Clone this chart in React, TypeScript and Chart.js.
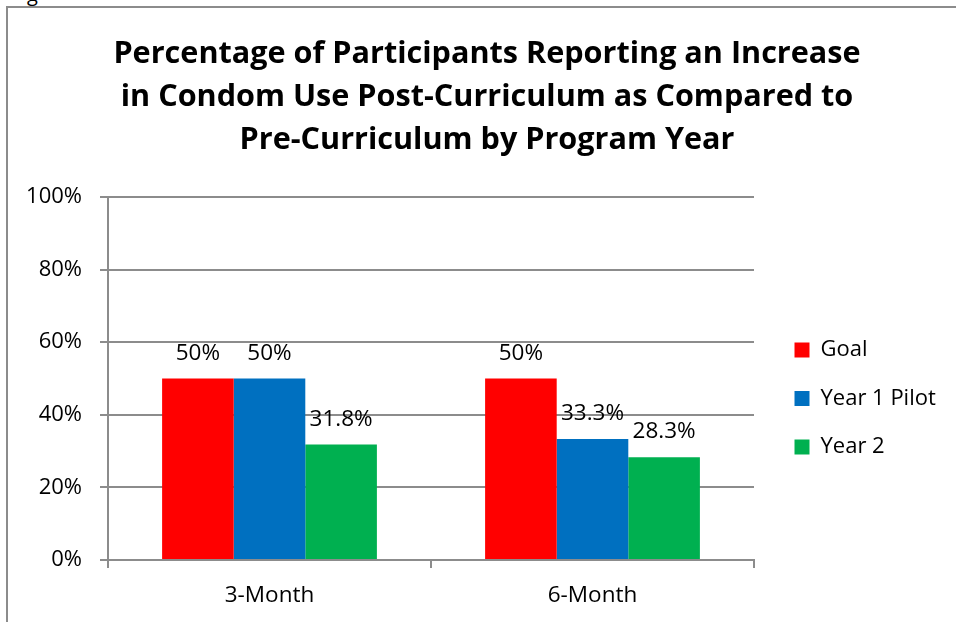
import React, { useEffect, useRef } from "react";
import { Chart, registerables } from "chart.js";

Chart.register(...registerables);

const FONT = "'Open Sans', Lato, sans-serif";

const titleLines = [
  "Percentage of Participants Reporting an Increase",
  "in Condom Use Post-Curriculum as Compared to",
  "Pre-Curriculum by Program Year",
];
const categories = ["3-Month", "6-Month"];
const seriesNames = ["Goal", "Year 1 Pilot", "Year 2"];
const goalValues = [50, 50];
const year1PilotValues = [50, 33.3];
const year2Values = [31.8, 28.3];
const seriesColors = ["#FF0000", "#0070C0", "#00B050"];
const yMin = 0;
const yMax = 100;
const yStep = 20;

const fmt = (v: number) => (Number.isInteger(v) ? `${v}%` : `${v.toFixed(1)}%`);

const valueLabels = {
  id: "valueLabels",
  afterDatasetsDraw(chart: any) {
    const ctx = chart.ctx;
    ctx.save();
    ctx.font = `22.5px ${FONT}`;
    ctx.fillStyle = "#000";
    ctx.textAlign = "center";
    ctx.textBaseline = "alphabetic";
    chart.data.datasets.forEach((ds: any, i: number) => {
      const meta = chart.getDatasetMeta(i);
      meta.data.forEach((bar: any, j: number) => {
        ctx.fillText(fmt(ds.data[j]), bar.x, bar.y - 19);
      });
    });
    ctx.restore();
  },
};

const boxShift = {
  id: "boxShift",
  afterLayout(chart: any) {
    const lg = chart.legend;
    if (lg) {
      lg.left += 14;
      lg.right = chart.width;
      lg.top += 20;
      lg.bottom += 20;
    }
    const tb = chart.titleBlock;
    if (tb) {
      tb.left += 30;
      tb.right += 30;
    }
  },
};

export default function App() {
  const ref = useRef<HTMLCanvasElement | null>(null);

  useEffect(() => {
    if (!ref.current) return;
    const gridColor = "#8c8c8c";
    const chart = new Chart(ref.current, {
      type: "bar",
      data: {
        labels: categories,
        datasets: [
          { label: seriesNames[0], data: goalValues, backgroundColor: seriesColors[0], borderWidth: 0 },
          { label: seriesNames[1], data: year1PilotValues, backgroundColor: seriesColors[1], borderWidth: 0 },
          { label: seriesNames[2], data: year2Values, backgroundColor: seriesColors[2], borderWidth: 0 },
        ],
      },
      options: {
        responsive: false,
        animation: false,
        events: [],
        layout: { padding: { left: 0, right: 42, top: 10, bottom: 10 } },
        datasets: { bar: { categoryPercentage: 0.665, barPercentage: 1 } },
        plugins: {
          tooltip: { enabled: false },
          title: {
            display: true,
            text: titleLines,
            color: "#000",
            font: { family: FONT, size: 30.6, weight: "bold", lineHeight: 43 / 30.6 },
            padding: { top: 23, bottom: 35 },
          },
          legend: {
            display: true,
            position: "right",
            fullSize: false,
            maxWidth: 160,
            labels: {
              color: "#000",
              font: { family: FONT, size: 22 },
              boxWidth: 15,
              boxHeight: 15,
              padding: 26.5,
            },
          },
        },
        scales: {
          x: {
            afterFit: (s: any) => {
              s.height = 52;
            },
            grid: {
              display: true,
              drawOnChartArea: false,
              drawTicks: true,
              tickLength: 8,
              color: gridColor,
              lineWidth: 2,
              offset: true,
            },
            border: { display: true, color: gridColor, width: 2 },
            ticks: { color: "#000", font: { family: FONT, size: 22.5 }, padding: 14 },
          },
          y: {
            min: yMin,
            max: yMax,
            afterFit: (s: any) => {
              s.width = 108;
            },
            grid: { color: gridColor, lineWidth: 2, tickLength: 8, drawTicks: true },
            border: { display: true, color: gridColor, width: 2 },
            ticks: {
              stepSize: yStep,
              color: "#000",
              font: { family: FONT, size: 22 },
              padding: 18,
              callback: (v: any) => `${v}%`,
            },
          },
        },
      },
      plugins: [valueLabels, boxShift],
    });
    return () => chart.destroy();
  }, []);

  return (
    <div
      style={{
        position: "absolute",
        left: 0,
        top: 0,
        width: 956,
        height: 622,
        overflow: "hidden",
        background: "#fff",
      }}
    >
      <span
        style={{
          position: "absolute",
          left: 27,
          top: -18,
          fontFamily: FONT,
          fontSize: 20,
          lineHeight: "24px",
          color: "#000",
        }}
      >
        g
      </span>
      <div
        style={{
          position: "absolute",
          left: 6,
          top: 6,
          width: 1000,
          height: 1000,
          borderLeft: "2px solid #8c8c8c",
          borderTop: "2px solid #8c8c8c",
          background: "#fff",
        }}
      />
      <canvas ref={ref} width={956} height={622} style={{ position: "absolute", left: 0, top: 0 }} />
    </div>
  );
}
